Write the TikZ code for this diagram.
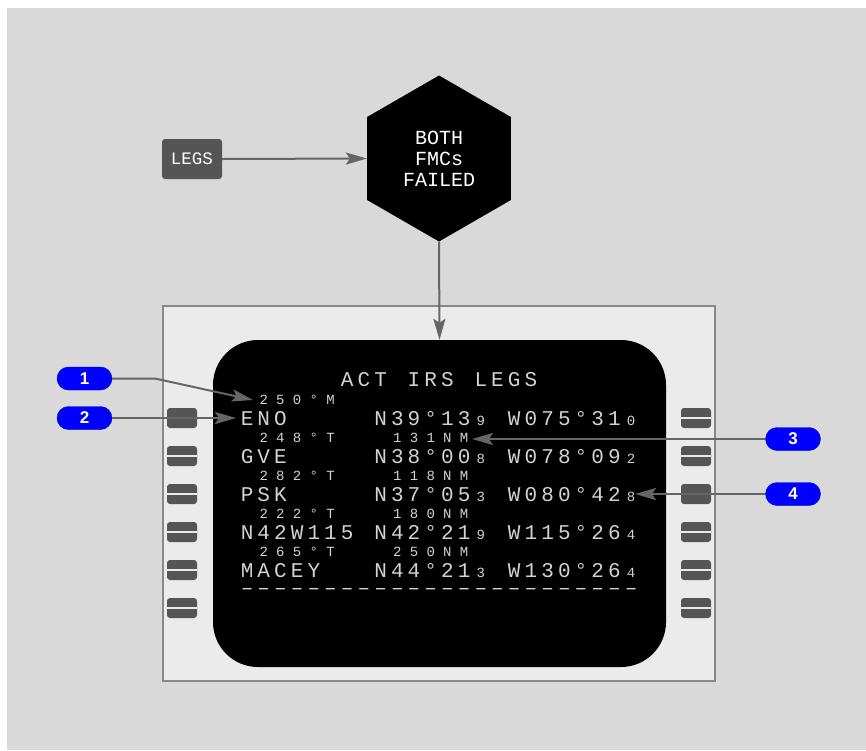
\documentclass[tikz,border=0pt]{standalone}
\usepackage{fontspec}
\setmainfont{Liberation Sans}
\newfontfamily\cdufont{Liberation Mono}
\usetikzlibrary{arrows.meta,shapes.geometric}
\definecolor{bggray}{HTML}{D9D9D9}
\definecolor{panelbg}{HTML}{EBEBEB}
\definecolor{panelline}{HTML}{888888}
\definecolor{btn}{HTML}{555555}
\definecolor{linegray}{HTML}{666666}
\definecolor{cdutext}{HTML}{D2D2D2}
\definecolor{callblue}{HTML}{0000FF}
\makeatletter
\newlength\cdupitch \setlength\cdupitch{16.7pt}
\def\cells#1{\cells@i#1\relax}
\def\cells@i#1{\ifx\relax#1\else\makebox[\cdupitch]{#1}\expandafter\cells@i\fi}
\makeatother
\newcommand\cduat[5]{\node[#4, anchor=base west] (#1) at ({238.5+#2*16.7}, #3) {\cells{#5}};}
\begin{document}
\begin{tikzpicture}[x=1pt,y=-1pt,
  big/.style={inner sep=0pt, text=cdutext, font=\cdufont\fontsize{21}{21}\selectfont},
  sml/.style={inner sep=0pt, text=cdutext, font=\cdufont\fontsize{14}{14}\selectfont},
  lskbtn/.style={draw=none, fill=btn, rounded corners=3pt, minimum width=30pt, minimum height=20pt, inner sep=0pt,
    path picture={\draw[panelbg, line width=2.2pt] (path picture bounding box.west) -- (path picture bounding box.east);}},
  arr/.style={draw=linegray, line width=2pt, -{Stealth[length=21pt,width=12pt,inset=4pt]}},
  callout/.style={fill=callblue, draw=callblue!80!black, line width=0.4pt, rounded corners=11.5pt, minimum width=55pt, minimum height=23pt, inner sep=0pt, text=white, font=\bfseries\fontsize{17}{17}\selectfont},
]
% background
\path[fill=white] (0,0) rectangle (866,750);
\path[fill=bggray] (7,8) rectangle (866,750);
\useasboundingbox (0,0) rectangle (866,750);

% panel and screen
\node[draw=panelline, line width=2pt, fill=panelbg, minimum width=552pt, minimum height=375pt, inner sep=0pt] (panel) at (439,493.5) {};
\node[fill=black, rounded corners=45pt, minimum width=453pt, minimum height=327pt, inner sep=0pt] (screen) at (439.5,503.5) {};

% line select keys
\foreach \k in {1,...,6}{
  \node[lskbtn] (lsk\k) at (182,{418+(\k-1)*38}) {};
  \node[lskbtn] (rsk\k) at (696,{418+(\k-1)*38}) {};
}

% CDU text
\cduat{title}{6}{386}{big}{ACT~IRS~LEGS}
\cduat{s1a}{1}{404}{sml}{250°M}
\cduat{r1a}{0}{425}{big}{ENO}
\cduat{r1b}{8}{425}{big}{N39°13}
\cduat{r1c}{14}{425}{sml}{9}
\cduat{r1d}{16}{425}{big}{W075°31}
\cduat{r1e}{23}{425}{sml}{0}
\cduat{s2a}{1}{442}{sml}{248°T}
\cduat{s2b}{9}{442}{sml}{131NM}
\cduat{r2a}{0}{463}{big}{GVE}
\cduat{r2b}{8}{463}{big}{N38°00}
\cduat{r2c}{14}{463}{sml}{8}
\cduat{r2d}{16}{463}{big}{W078°09}
\cduat{r2e}{23}{463}{sml}{2}
\cduat{s3a}{1}{480}{sml}{282°T}
\cduat{s3b}{9}{480}{sml}{118NM}
\cduat{r3a}{0}{501}{big}{PSK}
\cduat{r3b}{8}{501}{big}{N37°05}
\cduat{r3c}{14}{501}{sml}{3}
\cduat{r3d}{16}{501}{big}{W080°42}
\cduat{r3e}{23}{501}{sml}{8}
\cduat{s4a}{1}{518}{sml}{222°T}
\cduat{s4b}{9}{518}{sml}{180NM}
\cduat{r4a}{0}{539}{big}{N42W115}
\cduat{r4b}{8}{539}{big}{N42°21}
\cduat{r4c}{14}{539}{sml}{9}
\cduat{r4d}{16}{539}{big}{W115°26}
\cduat{r4e}{23}{539}{sml}{4}
\cduat{s5a}{1}{556}{sml}{265°T}
\cduat{s5b}{9}{556}{sml}{250NM}
\cduat{r5a}{0}{577}{big}{MACEY}
\cduat{r5b}{8}{577}{big}{N44°21}
\cduat{r5c}{14}{577}{sml}{3}
\cduat{r5d}{16}{577}{big}{W130°26}
\cduat{r5e}{23}{577}{sml}{4}
\node[big, anchor=base west, text height=7pt, text depth=0pt] (dash) at (238.5,594) {\cells{––––––––––––––––––––––––}};

% hexagon and LEGS key
\node[regular polygon, regular polygon sides=6, shape border rotate=30, minimum size=166pt, inner sep=0pt, fill=black, text=white, align=center, font=\cdufont\fontsize{20}{21}\selectfont] (hex) at (439,158.5) {BOTH\\FMCs\\FAILED};
\node[fill=btn, rounded corners=3pt, minimum width=60pt, minimum height=40pt, inner sep=0pt, text=white, font=\cdufont\fontsize{17.5}{17.5}\selectfont] (legs) at (192,159) {LEGS};

\draw[arr] (legs.east) -- (hex.west);
\draw[arr] (hex.south) -- (screen.north);

% callouts
\node[callout] (c1) at (84.5,378.5) {1};
\node[callout] (c2) at (84.5,418) {2};
\node[callout] (c3) at (793,439) {3};
\node[callout] (c4) at (793,494) {4};
\coordinate (k1) at (155,378.5);
\coordinate (t1) at (253,400);
\coordinate (t2) at (236,418);
\coordinate (t3) at (472,439);
\coordinate (t4) at (635,494);
\draw[arr] (c1.east) -- (k1) -- (t1);
\draw[arr] (c2.east) -- (t2);
\draw[arr] (c3.west) -- (t3);
\draw[arr] (c4.west) -- (t4);
\end{tikzpicture}
\end{document}
